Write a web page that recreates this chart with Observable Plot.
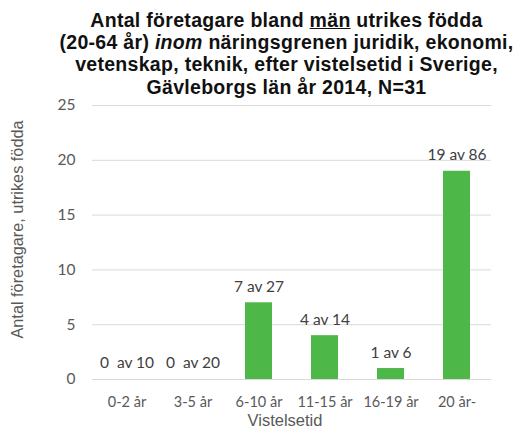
<!DOCTYPE html>
<html>
<head>
<meta charset="utf-8">
<script src="https://cdn.jsdelivr.net/npm/d3@7"></script>
<script src="https://cdn.jsdelivr.net/npm/@observablehq/plot@0.6"></script>
<style>
  body { margin: 0; background: #fff; }
  #title {
    width: 521px; height: 92px; box-sizing: border-box; overflow: visible;
    padding-top: 9px; padding-left: 52px;
    font-family: "Liberation Sans", Arial, sans-serif; font-weight: bold;
    font-size: 19.5px; line-height: 22.2px; text-align: center; color: #111;
    letter-spacing: 0.3px; white-space: nowrap;
  }
  #chart svg { background: transparent; display: block; }
  #chart svg text { white-space: pre; }
</style>
</head>
<body>
<div id="title">Antal företagare bland <u>män</u> utrikes födda<br>(20-64 år) <i>inom</i> näringsgrenen juridik, ekonomi,<br>vetenskap, teknik, efter vistelsetid i Sverige,<br>Gävleborgs län år 2014, N=31</div>
<div id="chart"></div>
<script>
const categories = ["0-2 år", "3-5 år", "6-10 år", "11-15 år", "16-19 år", "20 år-"];
const values = [0, 0, 7, 4, 1, 19];
const barLabels = ["0  av 10", "0  av 20", "7 av 27", "4 av 14", "1 av 6", "19 av 86"];
const yTicks = [0, 5, 10, 15, 20, 25];
const xTitle = "Vistelsetid";
const yTitle = "Antal företagare, utrikes födda";

const data = categories.map((c, i) => ({cat: c, value: values[i], label: barLabels[i]}));

const chart = Plot.plot({
  width: 521,
  height: 341,
  marginTop: 13,
  marginBottom: 54,
  marginLeft: 92,
  marginRight: 30,
  style: {fontFamily: "Lato, sans-serif", fontSize: "14.5px", color: "#595959", background: "transparent", overflow: "visible"},
  x: {domain: categories, paddingInner: 0.594, paddingOuter: 0.3, tickSize: 0, tickPadding: 17, label: null},
  y: {domain: [0, 25], ticks: yTicks, tickSize: 0, tickPadding: 17, label: null},
  marks: [
    Plot.gridY(yTicks, {stroke: "#d9d9d9", strokeOpacity: 1}),
    Plot.barY(data, {x: "cat", y: "value", fill: "#4db848"}),
    Plot.text(data, {x: "cat", y: "value", text: "label", dy: -16, fill: "#404040", fontSize: 15.5}),
    Plot.text([xTitle], {text: d => d, frameAnchor: "bottom", dy: 46, dx: -7, fontFamily: "Liberation Sans, Arial, sans-serif", fontSize: 16.5, fill: "#595959"}),
    Plot.text([yTitle], {text: d => d, frameAnchor: "left", textAnchor: "middle", rotate: -90, dx: -75, dy: -13, fontFamily: "Liberation Sans, Arial, sans-serif", fontSize: 16.3, fill: "#595959"})
  ]
});
document.getElementById("chart").appendChild(chart);
chart.querySelectorAll("g[aria-label='y-axis tick label'] text").forEach(t => t.setAttribute("font-size", "15.5"));
</script>
</body>
</html>
